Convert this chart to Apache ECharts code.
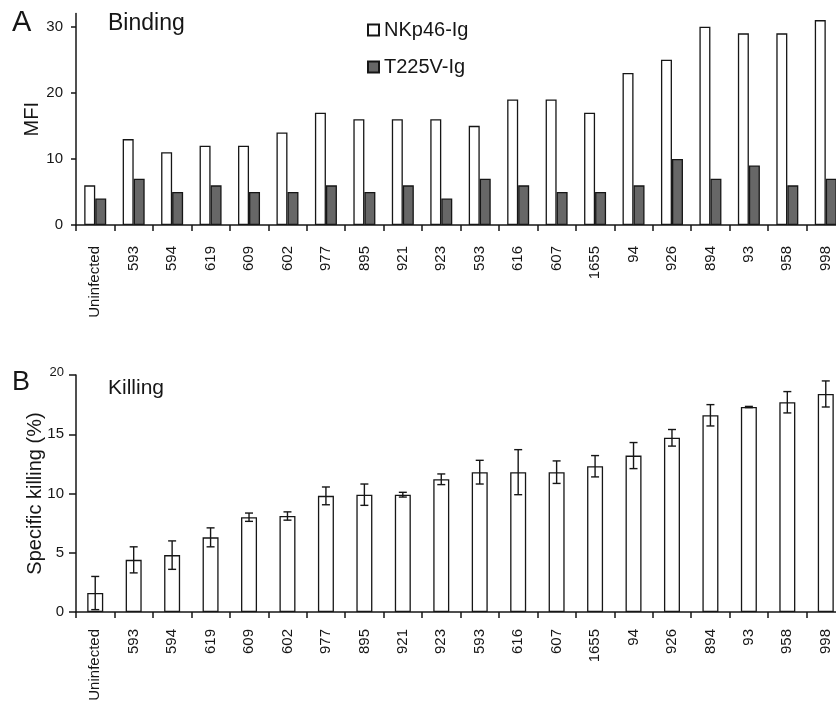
<!DOCTYPE html>
<html>
<head>
<meta charset="utf-8">
<script src="https://cdn.jsdelivr.net/npm/echarts/dist/echarts.min.js"></script>
<style>
  html, body { margin: 0; padding: 0; background: #fff; }
  #chart { width: 836px; height: 709px; }
</style>
</head>
<body>
<div id="chart"></div>
<script>
  var categories = ['Uninfected', '593', '594', '619', '609', '602', '977', '895', '921', '923',
    '593', '616', '607', '1655', '94', '926', '894', '93', '958', '998'];
  // A: binding (MFI)
  var nkp46 = [6, 13, 11, 12, 12, 14, 17, 16, 16, 16, 15, 19, 19, 17, 23, 25, 30, 29, 29, 31];
  var t225v = [4, 7, 5, 6, 5, 5, 6, 5, 6, 4, 7, 6, 5, 5, 6, 10, 7, 9, 6, 7];
  // B: specific killing (%) and error
  var killing = [1.6, 4.4, 4.8, 6.3, 8.0, 8.1, 9.8, 9.9, 9.9, 11.2, 11.8, 11.8, 11.8, 12.3, 13.2, 14.7, 16.6, 17.3, 17.7, 18.4];
  var killingErr = [1.4, 1.1, 1.2, 0.8, 0.35, 0.35, 0.75, 0.9, 0.2, 0.45, 1.0, 1.9, 0.95, 0.9, 1.1, 0.7, 0.9, 0.05, 0.9, 1.1];
  var ticksA = [0, 10, 20, 30];

  var font = '"Liberation Sans", Arial, Helvetica, sans-serif';
  var ink = '#161616';

  var errData = killing.map(function (v, i) { return [i, v, killingErr[i]]; });

  function renderErr(params, api) {
    var x = api.value(0), v = api.value(1), e = api.value(2);
    var hi = api.coord([x, v + e]);
    var lo = api.coord([x, v - e]);
    var w = 4;
    var st = { stroke: ink, lineWidth: 1.4 };
    return {
      type: 'group',
      children: [
        { type: 'line', shape: { x1: hi[0], y1: hi[1], x2: lo[0], y2: lo[1] }, style: st },
        { type: 'line', shape: { x1: hi[0] - w, y1: hi[1], x2: hi[0] + w, y2: hi[1] }, style: st },
        { type: 'line', shape: { x1: lo[0] - w, y1: lo[1], x2: lo[0] + w, y2: lo[1] }, style: st }
      ]
    };
  }

  function xAxisCfg(idx, margin) {
    return {
      type: 'category',
      gridIndex: idx,
      data: categories,
      axisLine: { show: true, lineStyle: { color: ink, width: 1.5 } },
      axisTick: { show: true, interval: 0, length: 6, lineStyle: { color: ink, width: 1.5 } },
      axisLabel: { interval: 0, rotate: 90, margin: margin, color: ink, fontSize: 15, fontFamily: font },
      splitLine: { show: false }
    };
  }

  var axisNameStyle = { color: ink, fontSize: 20, fontFamily: font };

  var option = {
    animation: false,
    backgroundColor: '#fff',
    textStyle: { fontFamily: font },
    grid: [
      { left: 76, top: 13.5, width: 769, height: 211.5, outerBoundsMode: 'none' },
      { left: 76, top: 375, width: 769, height: 237, outerBoundsMode: 'none' }
    ],
    legend: {
      orient: 'vertical',
      left: 362,
      top: 15,
      icon: 'rect',
      itemWidth: 11,
      itemHeight: 11,
      itemGap: 17,
      data: ['NKp46-Ig', 'T225V-Ig'],
      textStyle: { color: ink, fontSize: 20, fontFamily: font, lineHeight: 20 }
    },
    xAxis: [xAxisCfg(0, 21), xAxisCfg(1, 17)],
    yAxis: [
      {
        type: 'value',
        gridIndex: 0,
        min: 0,
        max: 32,
        interval: 10,
        name: 'MFI',
        nameLocation: 'middle',
        nameGap: 34,
        nameMoveOverlap: false,
        nameTextStyle: axisNameStyle,
        axisLine: { show: true, lineStyle: { color: ink, width: 1.5 } },
        axisTick: { show: true, length: 5, customValues: ticksA, lineStyle: { color: ink, width: 1.5 } },
        axisLabel: { customValues: ticksA, margin: 13, color: ink, fontSize: 15, fontFamily: font },
        splitLine: { show: false }
      },
      {
        type: 'value',
        gridIndex: 1,
        min: 0,
        max: 20,
        interval: 5,
        name: 'Specific killing (%)',
        nameLocation: 'middle',
        nameGap: 31,
        nameMoveOverlap: false,
        nameTextStyle: axisNameStyle,
        axisLine: { show: true, lineStyle: { color: ink, width: 1.5 } },
        axisTick: { show: true, length: 7, lineStyle: { color: ink, width: 1.5 } },
        axisLabel: {
          margin: 12, color: ink, fontSize: 15, fontFamily: font,
          formatter: function (v) { return v === 20 ? '{s|20}' : String(v); },
          rich: { s: { fontSize: 13, color: ink, fontFamily: font, padding: [0, 0, 6, 0] } }
        },
        splitLine: { show: false }
      }
    ],
    graphic: [
      { type: 'text', left: 12, top: 8, style: { text: 'A', fontSize: 29, fontFamily: font, fill: ink } },
      { type: 'text', left: 108, top: 12, style: { text: 'Binding', fontSize: 23, fontFamily: font, fill: ink } },
      { type: 'text', left: 12, top: 369, style: { text: 'B', fontSize: 27, fontFamily: font, fill: ink } },
      { type: 'text', left: 108, top: 378, style: { text: 'Killing', fontSize: 21, fontFamily: font, fill: ink } }
    ],
    series: [
      {
        name: 'NKp46-Ig',
        type: 'bar',
        xAxisIndex: 0,
        yAxisIndex: 0,
        data: nkp46,
        barWidth: 11,
        barGap: '0%',
        itemStyle: { color: '#ffffff', borderColor: ink, borderWidth: 1.3 }
      },
      {
        name: 'T225V-Ig',
        type: 'bar',
        xAxisIndex: 0,
        yAxisIndex: 0,
        data: t225v,
        barWidth: 11,
        barGap: '0%',
        itemStyle: { color: '#676767', borderColor: ink, borderWidth: 1.3 }
      },
      {
        name: 'Killing',
        type: 'bar',
        xAxisIndex: 1,
        yAxisIndex: 1,
        data: killing,
        barWidth: 16,
        itemStyle: { color: '#ffffff', borderColor: ink, borderWidth: 1.3 }
      },
      {
        name: 'Killing error',
        type: 'custom',
        xAxisIndex: 1,
        yAxisIndex: 1,
        data: errData,
        encode: { x: 0, y: 1 },
        renderItem: renderErr,
        z: 5
      }
    ]
  };

  var chart = echarts.init(document.getElementById('chart'), null, { renderer: 'canvas' });
  chart.setOption(option);
</script>
</body>
</html>
